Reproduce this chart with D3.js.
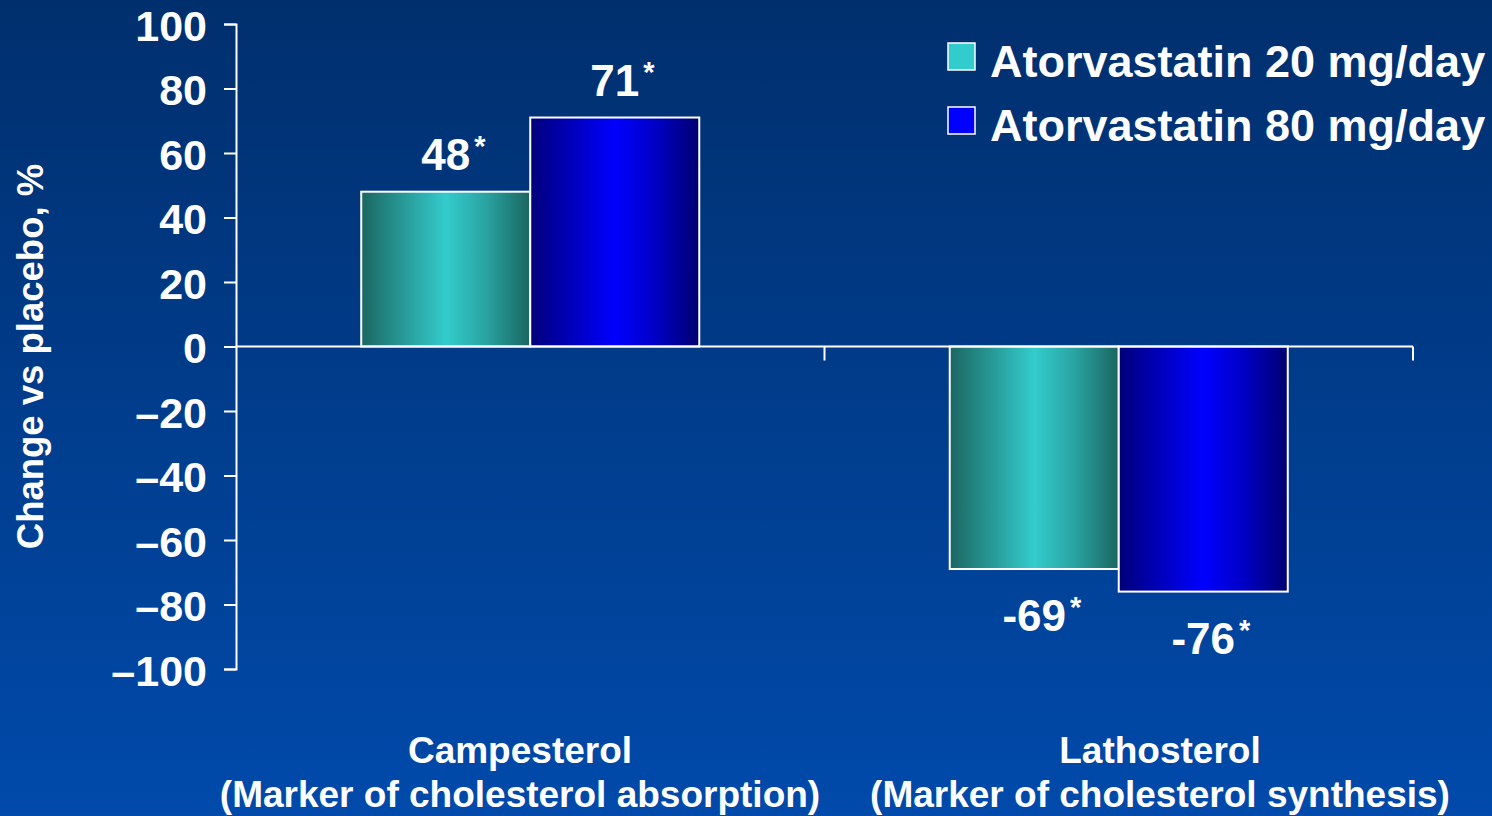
<!DOCTYPE html>
<html>
<head>
<meta charset="utf-8">
<script src="https://cdn.jsdelivr.net/npm/d3@7"></script>
<style>
  html, body { margin: 0; padding: 0; background: #003a8a; }
  svg { display: block; }
  text { font-family: "Liberation Sans", Arial, sans-serif; font-weight: bold; fill: #ffffff; }
</style>
</head>
<body>
<svg id="chart" width="1492" height="816"></svg>
<script>
// Sterol markers: percent change versus placebo
const categories = ["Campesterol", "Lathosterol"];
const categorySubtitles = ["(Marker of cholesterol absorption)", "(Marker of cholesterol synthesis)"];
const seriesNames = ["Atorvastatin 20 mg/day", "Atorvastatin 80 mg/day"];
const dose20Values = [48, -69];
const dose80Values = [71, -76];
const significant = [[true, true], [true, true]]; // [series][category]
const yTickValues = [100, 80, 60, 40, 20, 0, -20, -40, -60, -80, -100];

const W = 1492, H = 816;
const svg = d3.select("#chart");
const defs = svg.append("defs");

// Slide background
const bg = defs.append("linearGradient").attr("id", "bg")
  .attr("x1", 0).attr("y1", 0).attr("x2", 0).attr("y2", 1);
bg.append("stop").attr("offset", "0%").attr("stop-color", "#002f6d");
bg.append("stop").attr("offset", "100%").attr("stop-color", "#004aab");
svg.append("rect").attr("width", W).attr("height", H).attr("fill", "url(#bg)");

// Cylindrical shading for the bars
function barGradient(id, edgeL, mid, edgeR) {
  const g = defs.append("linearGradient").attr("id", id)
    .attr("x1", 0).attr("y1", 0).attr("x2", 1).attr("y2", 0);
  g.append("stop").attr("offset", "0%").attr("stop-color", edgeL);
  g.append("stop").attr("offset", "20%").attr("stop-color", d3.interpolateRgb(edgeL, mid)(0.4));
  g.append("stop").attr("offset", "50%").attr("stop-color", mid);
  g.append("stop").attr("offset", "74%").attr("stop-color", d3.interpolateRgb(mid, edgeR)(0.4));
  g.append("stop").attr("offset", "100%").attr("stop-color", edgeR);
}
barGradient("g20", "#1b6662", "#33cccc", "#1a6560");
barGradient("g80", "#00007a", "#0000ff", "#000070");
const seriesFill = ["url(#g20)", "url(#g80)"];
const legendFill = ["#33cccc", "#0000ff"];

// Scales
const x = d3.scaleBand().domain(categories).range([236, 1413]).padding(0);
const xs = d3.scaleBand().domain(seriesNames).range([0, x.bandwidth()])
  .paddingInner(0).paddingOuter(0.741);
const y = d3.scaleLinear().domain([-100, 100]).range([669, 24]);

// Y axis
const fmt = v => v < 0 ? "\u2013" + Math.abs(v) : String(v);
const yAxis = svg.append("g").attr("transform", "translate(236,0)")
  .call(d3.axisLeft(y).tickValues(yTickValues).tickFormat(fmt)
    .tickSize(12).tickSizeOuter(12).tickPadding(17));
yAxis.select(".domain").attr("stroke", "#ffffff").attr("stroke-width", 2).attr("fill", "none");
yAxis.selectAll(".tick line").attr("stroke", "#ffffff").attr("stroke-width", 2);
yAxis.selectAll(".tick text")
  .attr("fill", "#ffffff").attr("font-size", 43)
  .attr("font-family", "'Liberation Sans', Arial, sans-serif")
  .attr("font-weight", "bold").attr("dy", "0.38em");

// Y axis title
svg.append("text")
  .attr("transform", `translate(43,${(y(100) + y(-100)) / 2 + 10}) rotate(-90)`)
  .attr("text-anchor", "middle").attr("font-size", 36.5)
  .text("Change vs placebo, %");

// Bars
const data = [];
categories.forEach((c, ci) => {
  [dose20Values, dose80Values].forEach((vals, si) => {
    data.push({ cat: c, ci, si, series: seriesNames[si], v: vals[ci], sig: significant[si][ci] });
  });
});

svg.append("g").selectAll("rect").data(data).join("rect")
  .attr("x", d => x(d.cat) + xs(d.series))
  .attr("width", xs.bandwidth())
  .attr("y", d => y(Math.max(0, d.v)))
  .attr("height", d => Math.abs(y(d.v) - y(0)))
  .attr("fill", d => seriesFill[d.si])
  .attr("stroke", "#ffffff").attr("stroke-width", 2);

// Zero baseline with category separator ticks
const zeroY = y(0);
svg.append("line")
  .attr("x1", x.range()[0]).attr("x2", x.range()[1])
  .attr("y1", zeroY).attr("y2", zeroY)
  .attr("stroke", "#ffffff").attr("stroke-width", 2);
svg.append("g").selectAll("line").data(categories).join("line")
  .attr("x1", d => x(d) + x.bandwidth()).attr("x2", d => x(d) + x.bandwidth())
  .attr("y1", zeroY).attr("y2", zeroY + 14)
  .attr("stroke", "#ffffff").attr("stroke-width", 2);

// Value labels with significance asterisk
const labels = svg.append("g");
data.forEach(d => {
  const cx = x(d.cat) + xs(d.series) + xs.bandwidth() / 2;
  const by = d.v >= 0 ? y(d.v) - 22 : y(d.v) + 62;
  const t = labels.append("text").attr("x", cx).attr("y", by)
    .attr("text-anchor", "middle").attr("font-size", 44)
    .text(d.v < 0 ? "-" + Math.abs(d.v) : String(d.v));
  if (d.sig) {
    const w = t.node().getComputedTextLength();
    labels.append("text").attr("x", cx + w / 2 + 4).attr("y", by - 14)
      .attr("font-size", 29).text("*");
  }
});

// Category labels
const catLabelX = [520, 1160];
const cl = svg.append("g");
categories.forEach((c, i) => {
  const t = cl.append("text").attr("text-anchor", "middle").attr("font-size", 37);
  t.append("tspan").attr("x", catLabelX[i]).attr("y", 763).text(c);
  t.append("tspan").attr("x", catLabelX[i]).attr("y", 807).text(categorySubtitles[i]);
});

// Legend
const lg = svg.append("g").selectAll("g").data(seriesNames).join("g")
  .attr("transform", (d, i) => `translate(948,${43 + i * 64})`);
lg.append("rect").attr("width", 27).attr("height", 27)
  .attr("fill", (d, i) => legendFill[i]).attr("stroke", "#ffffff").attr("stroke-width", 1.5);
lg.append("text").attr("x", 42).attr("y", 34).attr("font-size", 45).text(d => d);
</script>
</body>
</html>
